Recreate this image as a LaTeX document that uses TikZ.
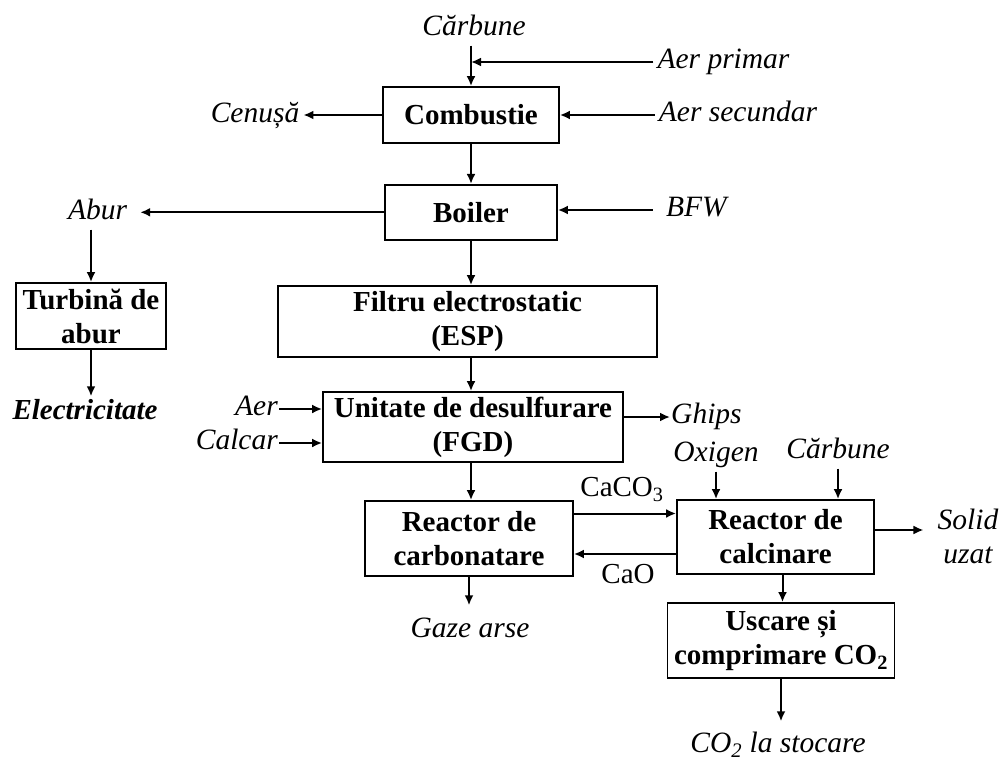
\documentclass[tikz,border=0pt]{standalone}
\usepackage{fontspec}
\setmainfont{Liberation Serif}
\usetikzlibrary{arrows.meta,positioning}
\begin{document}
\begin{tikzpicture}[x=1pt,y=-1pt,font=\fontsize{29}{34}\selectfont,>={Latex[length=10pt,width=9pt]},
unit/.style={draw,line width=1.8pt,inner sep=0pt,align=center,font=\fontsize{29}{34}\selectfont\bfseries},
lbl/.style={inner sep=4pt,text height=19pt,text depth=6pt,font=\fontsize{29.5}{34}\selectfont\itshape},
arr/.style={->,line width=2pt}]
\useasboundingbox (0,0) rectangle (1002,762);
\node[unit,minimum width=176pt,minimum height=56pt] (comb) at (471,115) {Combustie};
\node[unit,minimum width=172pt,minimum height=55pt,below=40pt of comb] (boil) {Boiler};
\node[unit,minimum width=150pt,minimum height=66pt] (turb) at (91,316) {Turbină de\\abur};
\node[unit,minimum width=379pt,minimum height=71pt] (esp) at (467.5,321.5) {Filtru electrostatic\\(ESP)};
\node[unit,minimum width=300pt,minimum height=70pt] (fgd) at (473,427) {Unitate de desulfurare\\(FGD)};
\node[unit,minimum width=208pt,minimum height=75pt] (carb) at (469,538.5) {Reactor de\\carbonatare};
\node[unit,minimum width=197pt,minimum height=74pt] (calc) at (775.5,537) {Reactor de\\calcinare};
\node[unit,minimum width=227pt,minimum height=75pt] (usc) at (781,640.5) {Uscare și\\comprimare CO\textsubscript{2}};
\node[lbl] (carbtop) at (474,29) {Cărbune};
\node[lbl] (aerp) at (723.5,62) {Aer primar};
\node[lbl] (aers) at (738,115) {Aer secundar};
\node[lbl] (cen) at (255,116) {Cenușă};
\node[lbl] (bfw) at (696.5,210) {BFW};
\node[lbl] (abur) at (97.5,213) {Abur};
\node[lbl,font=\fontsize{29}{34}\selectfont\bfseries\itshape] (elec) at (85,413) {Electricitate};
\node[lbl,anchor=east,inner xsep=1pt] (aer) at (279,409) {Aer};
\node[lbl,anchor=east,inner xsep=1pt] (calcar) at (279,443) {Calcar};
\node[lbl,anchor=west,inner xsep=1pt] (ghips) at (670,417) {Ghips};
\node[lbl] (oxig) at (716,455) {Oxigen};
\node[lbl] (carbcalc) at (838,452) {Cărbune};
\node[lbl,font=\fontsize{29}{34}\selectfont] (caco) at (622,490) {CaCO\textsubscript{3}};
\node[lbl,font=\fontsize{29}{34}\selectfont] (cao) at (628,577) {CaO};
\node[lbl,align=center,text height=,text depth=] (solid) at (968,536) {Solid\\uzat};
\node[lbl] (gaze) at (470,631) {Gaze arse};
\node[lbl] (stoc) at (778,746) {CO\textsubscript{2} la stocare};
\draw[arr] (comb.north |- carbtop.south) -- (comb.north);
\draw[arr] (aerp.west) -- (aerp.west -| comb.north);
\draw[arr] (aers.west) -- (aers.west -| comb.east);
\draw[arr] (comb.west) -- (comb.west -| cen.east);
\draw[arr] (comb.south) -- (boil.north);
\draw[arr] ([xshift=-9pt]bfw.west) -- (bfw.west -| boil.east);
\draw[arr,shorten >=9pt] (boil.west) -- (boil.west -| abur.east);
\draw[arr] (turb.north |- abur.south) -- (turb.north);
\draw[arr] (turb.south) -- (turb.south |- elec.north);
\draw[arr] (boil.south) -- (boil.south |- esp.north);
\draw[arr] (boil.south |- esp.south) -- (boil.south |- fgd.north);
\draw[arr] (aer.east) -- (aer.east -| fgd.west);
\draw[arr] (calcar.east) -- (calcar.east -| fgd.west);
\draw[arr] (ghips.west -| fgd.east) -- (ghips.west);
\draw[arr] (boil.south |- fgd.south) -- (boil.south |- carb.north);
\draw[arr] ([yshift=25pt]carb.east) -- ([yshift=25pt]carb.east -| calc.west);
\draw[arr] ([yshift=-17pt]calc.west) -- ([yshift=-17pt]calc.west -| carb.east);
\draw[arr] (oxig.south) -- (oxig.south |- calc.north);
\draw[arr] (carbcalc.south) -- (carbcalc.south |- calc.north);
\draw[arr,shorten >=10pt] ([yshift=7pt]calc.east) -- ([yshift=7pt]calc.east -| solid.west);
\draw[arr] ([xshift=7pt]calc.south) -- ([xshift=7pt]calc.south |- usc.north);
\draw[arr,shorten >=8pt] (usc.south) -- (usc.south |- stoc.north);
\draw[arr,shorten >=9pt] (carb.south) -- (carb.south |- gaze.north);
\end{tikzpicture}
\end{document}
